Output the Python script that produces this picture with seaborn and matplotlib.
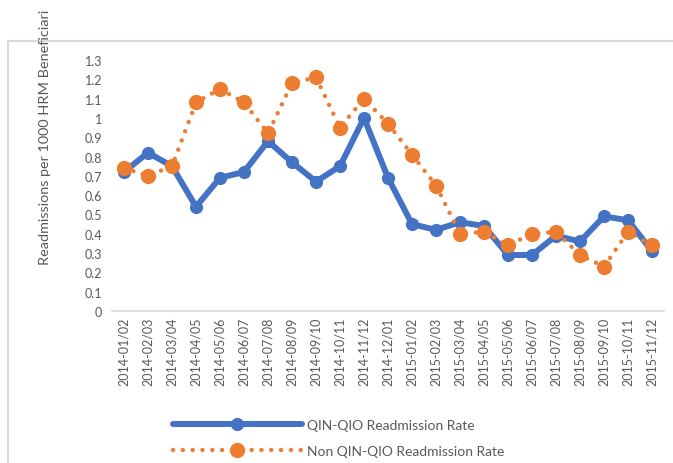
import pandas as pd
import numpy as np
import seaborn as sns
import matplotlib.pyplot as plt
from matplotlib.patches import Rectangle

# Data
periods = ['2014-01/02', '2014-02/03', '2014-03/04', '2014-04/05', '2014-05/06', '2014-06/07',
           '2014-07/08', '2014-08/09', '2014-09/10', '2014-10/11', '2014-11/12', '2014-12/01',
           '2015-01/02', '2015-02/03', '2015-03/04', '2015-04/05', '2015-05/06', '2015-06/07',
           '2015-07/08', '2015-08/09', '2015-09/10', '2015-10/11', '2015-11/12']
qin_rate = [0.72, 0.82, 0.75, 0.54, 0.69, 0.72, 0.88, 0.77, 0.67, 0.75, 1.00, 0.69,
            0.45, 0.42, 0.46, 0.44, 0.29, 0.29, 0.39, 0.36, 0.49, 0.47, 0.31]
non_qin_rate = [0.74, 0.70, 0.75, 1.08, 1.15, 1.08, 0.92, 1.18, 1.21, 0.95, 1.10, 0.97,
                0.81, 0.65, 0.40, 0.41, 0.34, 0.40, 0.41, 0.29, 0.23, 0.41, 0.34]
yticks = [0, 0.1, 0.2, 0.3, 0.4, 0.5, 0.6, 0.7, 0.8, 0.9, 1, 1.1, 1.2, 1.3]
ytick_labels = ['0', '0.1', '0.2', '0.3', '0.4', '0.5', '0.6', '0.7', '0.8', '0.9', '1', '1.1', '1.2', '1.3']

df = pd.DataFrame({'period': periods, 'qin': qin_rate, 'non_qin': non_qin_rate})

sns.set_style('white')
plt.rcParams['font.family'] = ['Lato', 'DejaVu Sans']

fig = plt.figure(figsize=(6.73, 4.64), dpi=100)
ax = fig.add_axes([112 / 673, 1 - 312 / 464, 552 / 673, 251 / 464])

# outer chart frame (runs off the right and bottom edges)
fig.patches.append(Rectangle((8 / 673, -0.2), 1.2, 0.2 + (1 - 42 / 464),
                             transform=fig.transFigure, fill=False,
                             edgecolor='#d9d9d9', linewidth=1.5))

sns.lineplot(data=df, x='period', y='qin', ax=ax, sort=False, color='#4472c4',
             linewidth=4.3, marker='o', markersize=9.5, markeredgewidth=0,
             label='QIN-QIO Readmission Rate', clip_on=False)
sns.lineplot(data=df, x='period', y='non_qin', ax=ax, sort=False, color='#ed7d31',
             linewidth=3.2, linestyle=(0, (0.01, 2.2)), dash_capstyle='round',
             marker='o', markersize=11, markeredgewidth=0,
             label='Non QIN-QIO Readmission Rate', clip_on=False)

ax.set_xlim(-0.5, len(periods) - 0.5)
ax.set_ylim(0, 1.3)
ax.set_yticks(yticks)
ax.set_yticklabels(ytick_labels)
ax.set_xticks(range(len(periods)))
ax.set_xticklabels(periods, rotation=90)
ax.tick_params(axis='y', length=0, pad=7, labelsize=9, labelcolor='#595959')
ax.tick_params(axis='x', length=0, pad=4, labelsize=9, labelcolor='#595959')
ax.set_xlabel('')
ax.set_ylabel('')
for s in ['left', 'right', 'top']:
    ax.spines[s].set_visible(False)
ax.spines['bottom'].set_color('#d9d9d9')
ax.spines['bottom'].set_linewidth(1.2)

fig.text(45 / 673, 1 - 265 / 464, 'Readmissions per 1000 HRM Beneficiari', rotation=90,
         ha='center', va='bottom', fontsize=10.4, color='#595959')

leg = ax.legend(loc='center left', bbox_to_anchor=(160 / 673, 1 - 439 / 464),
                bbox_transform=fig.transFigure, frameon=False, fontsize=10,
                handlelength=9.3, handletextpad=0.4, labelspacing=1.05, labelcolor='#595959')

fig.savefig('out.png', dpi=100)
